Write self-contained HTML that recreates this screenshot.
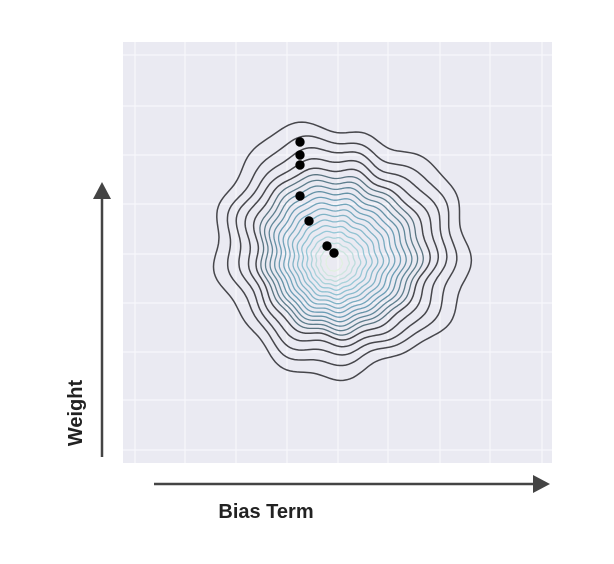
<!DOCTYPE html>
<html><head><style>
html,body{margin:0;padding:0;background:#fff;}
svg{display:block;}
text{font-family:"Liberation Sans",sans-serif;font-weight:bold;fill:#222;}
</style></head><body>
<svg id="s" width="614" height="564" xmlns="http://www.w3.org/2000/svg">
<rect x="123" y="42" width="429" height="421" fill="#eaeaf2"/>
<g stroke="#f7f7fb" stroke-width="1.2">
<line x1="135" y1="42" x2="135" y2="463"/><line x1="185" y1="42" x2="185" y2="463"/>
<line x1="236" y1="42" x2="236" y2="463"/><line x1="287" y1="42" x2="287" y2="463"/>
<line x1="338" y1="42" x2="338" y2="463"/><line x1="388" y1="42" x2="388" y2="463"/>
<line x1="440" y1="42" x2="440" y2="463"/><line x1="490" y1="42" x2="490" y2="463"/>
<line x1="542" y1="42" x2="542" y2="463"/>
<line x1="123" y1="55" x2="552" y2="55"/><line x1="123" y1="106" x2="552" y2="106"/>
<line x1="123" y1="155" x2="552" y2="155"/><line x1="123" y1="204" x2="552" y2="204"/>
<line x1="123" y1="254" x2="552" y2="254"/><line x1="123" y1="303" x2="552" y2="303"/>
<line x1="123" y1="352" x2="552" y2="352"/><line x1="123" y1="400" x2="552" y2="400"/>
<line x1="123" y1="450" x2="552" y2="450"/>
</g>
<g id="c" fill="none" stroke-width="1.5"></g>
<g fill="#000">
<circle cx="300" cy="142" r="4.7"/><circle cx="300" cy="155" r="4.7"/><circle cx="300" cy="165" r="4.7"/>
<circle cx="300" cy="196" r="4.7"/><circle cx="309" cy="221" r="4.7"/><circle cx="327" cy="246" r="4.7"/><circle cx="334" cy="253" r="4.7"/>
</g>
<line x1="102" y1="457" x2="102" y2="196" stroke="#444" stroke-width="2.5"/>
<polygon points="102,182 93,199 111,199" fill="#444"/>
<line x1="154" y1="484" x2="535" y2="484" stroke="#444" stroke-width="2.5"/>
<polygon points="550,484 533,475 533,493" fill="#444"/>
<text x="266" y="518" font-size="20" text-anchor="middle">Bias Term</text>
<text transform="translate(82,413) rotate(-90)" font-size="20" text-anchor="middle">Weight</text>
</svg>
<script>
var g=document.getElementById('c');
var radii=[8,14,19,24,29,34,39,44,49,54,59,64,69,74,79,85,93,102,112,125];
var N=radii.length, DARK=15;
function lerp(a,b,t){return a+(b-a)*t;}
for(var k=0;k<N;k++){
 var R=radii[k];var f=k/(N-1);
 var cx=lerp(334,340,f), cy=lerp(263,250,f);
 var col,t;
 if(k>=DARK){col='rgb(70,70,75)';}
 else if(k>=11){t=(k-11)/4;col='rgb('+Math.round(lerp(100,85,t))+','+Math.round(lerp(145,105,t))+','+Math.round(lerp(165,115,t))+')';}
 else if(k>=4){t=(k-4)/7;col='rgb('+Math.round(lerp(150,100,t))+','+Math.round(lerp(200,150,t))+','+Math.round(lerp(215,175,t))+')';}
 else {t=k/4;col='rgb('+Math.round(lerp(225,150,t))+','+Math.round(lerp(240,200,t))+','+Math.round(lerp(225,215,t))+')';}
 var d='';
 for(var i=0;i<=240;i++){
  var a=i/240*Math.PI*2;
  var r=R*(1+0.02*Math.sin(13*a+0.5)+0.016*Math.sin(9*a+1)+0.035*Math.sin(3*a+2)+0.025*Math.sin(2*a+0.4))
     +(k>=DARK?(k-DARK+1)*0.8*Math.sin(5*a+k*0.6):0);
  var x=cx+r*Math.cos(a), y=cy+r*Math.sin(a);
  d+=(i?'L':'M')+x.toFixed(1)+','+y.toFixed(1);
 }
 var p=document.createElementNS('http://www.w3.org/2000/svg','path');
 p.setAttribute('d',d+'Z');p.setAttribute('stroke',col);
 if(k<DARK)p.setAttribute('stroke-width','1.3');
 g.appendChild(p);
}
</script>
</body></html>
